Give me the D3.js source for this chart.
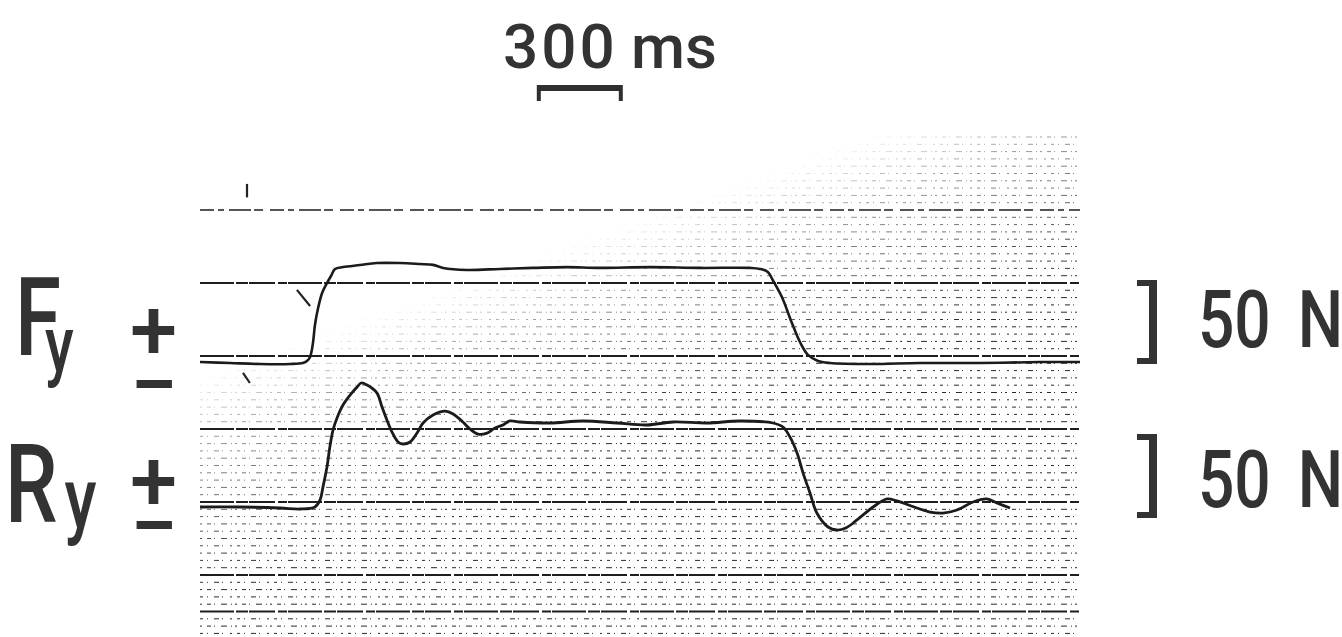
<!DOCTYPE html>
<html>
<head>
<meta charset="utf-8">
<script src="https://cdn.jsdelivr.net/npm/d3@7"></script>
<style>
  html, body { margin: 0; padding: 0; background: #fff; }
  svg { display: block; }
  text { font-family: Roboto, "Liberation Sans", sans-serif; font-weight: 500; fill: #333; }
</style>
</head>
<body>
<div id="chart"></div>
<script>
// Fy trace: time (ms) and force (N)
const fyTime  = [0, 105, 209, 314, 359, 373, 384, 394, 401, 412, 426, 443, 457, 471, 499, 558, 617, 698, 767, 813, 848, 931, 1047, 1162, 1280, 1395, 1570, 1744, 1919, 1953, 1981, 1998, 2030, 2065, 2093, 2121, 2156, 2198, 2337, 2512, 2721, 2930, 3070];
const fyForce = [0, -0.6, -1.2, -1.2, -0.6, 0.6, 3.0, 11.3, 22.0, 32.1, 41.1, 47.0, 51.2, 55.4, 56.5, 57.7, 58.9, 58.9, 58.3, 57.8, 56.0, 54.8, 55.4, 56.0, 56.5, 56.0, 56.5, 56.0, 56.0, 55.4, 53.6, 48.8, 38.7, 23.2, 11.9, 4.2, 0.6, -0.6, -1.2, -0.6, -0.6, 0, 0];

// Ry trace
const ryTime  = [0, 140, 279, 349, 401, 419, 429, 443, 453, 464, 478, 499, 530, 548, 562, 583, 617, 635, 652, 670, 691, 708, 733, 757, 778, 813, 855, 883, 917, 942, 970, 1001, 1029, 1057, 1081, 1116, 1221, 1336, 1455, 1559, 1650, 1769, 1884, 1999, 2034, 2058, 2083, 2104, 2128, 2152, 2191, 2222, 2253, 2292, 2348, 2397, 2431, 2501, 2547, 2592, 2641, 2697, 2745, 2780, 2826];
const ryForce = [0.6, 0.6, 0, -0.6, 0.6, 4.8, 12.5, 24.4, 36.3, 46.4, 53.6, 61.3, 68.5, 72.0, 74.4, 73.2, 68.5, 60.1, 52.4, 45.2, 39.3, 38.1, 39.3, 44.6, 50.6, 55.4, 57.7, 56.0, 51.2, 47.0, 44.0, 44.6, 47.6, 49.4, 51.8, 51.2, 50.6, 51.8, 50.6, 49.4, 51.2, 50.6, 51.8, 50.6, 48.2, 42.3, 32.7, 20.8, 8.9, -3.0, -11.3, -13.1, -11.9, -7.1, 0.6, 5.4, 4.2, 0, -2.4, -3.0, -1.2, 3.6, 5.4, 3.0, 0];

// stray pen marks on the Fy channel (time ms, force N), pairs = segments
const markTime  = [[338, 384], [164, 164], [150, 174]];
const markForce = [[42.9, 33.3], [106, 98], [-6.5, -12.5]];

// paper grid rows (major divisions)
const majorRows = [0, 1, 2, 3, 4, 5, 5.5];
const minorStep = 0.1;

// calibration marks
const scaleBarMs = 300;
const scaleBarStart = 1175;
const scaleBarN = 50;

const width = 1342, height = 637;

const svg = d3.select("#chart").append("svg")
    .attr("width", width)
    .attr("height", height);

const x = d3.scaleLinear().domain([0, 3070]).range([200, 1080]);
const row = d3.scaleLinear().domain([0, 5]).range([210, 575]);
const yFy = d3.scaleLinear().domain([0, 50]).range([362, 278]);
const yRy = d3.scaleLinear().domain([0, 50]).range([508, 424]);

// fade mask so the fine grid shows mostly lower right like the print
const defs = svg.append("defs");
const grad = defs.append("linearGradient")
    .attr("id", "fade")
    .attr("gradientUnits", "userSpaceOnUse")
    .attr("x1", 550).attr("y1", 250)
    .attr("x2", 620).attr("y2", 445);
grad.append("stop").attr("offset", 0).attr("stop-color", "#000");
grad.append("stop").attr("offset", 0.3).attr("stop-color", "#777");
grad.append("stop").attr("offset", 1).attr("stop-color", "#fff");
defs.append("mask").attr("id", "gridMask")
    .append("rect")
    .attr("x", 0).attr("y", 0).attr("width", width).attr("height", height)
    .attr("fill", "url(#fade)");

// fine grid
const minorRows = d3.range(-1, 6, minorStep)
    .map(d => Math.round(d * 10) / 10)
    .filter(d => !majorRows.includes(d));

svg.append("g")
    .attr("mask", "url(#gridMask)")
    .selectAll("line")
    .data(minorRows)
    .enter().append("line")
    .attr("x1", x(0)).attr("x2", x(3070))
    .attr("y1", d => row(d)).attr("y2", d => row(d))
    .style("stroke", "#2a2a2a")
    .style("stroke-width", 1)
    .style("stroke-dasharray", (d, i) => i % 2 ? "3 4 1 6 5 3 1 7 2 5" : "2 5 4 3 1 6 6 4 1 3");

// right paper edge
svg.append("line")
    .attr("mask", "url(#gridMask)")
    .attr("x1", x(3070)).attr("x2", x(3070))
    .attr("y1", row(-0.9)).attr("y2", height)
    .style("stroke", "#555")
    .style("stroke-width", 1.5)
    .style("stroke-dasharray", "2 3 1 4");

// major grid
svg.append("g")
    .selectAll("line")
    .data(majorRows)
    .enter().append("line")
    .attr("x1", x(0)).attr("x2", x(3070))
    .attr("y1", d => row(d)).attr("y2", d => row(d))
    .style("stroke", "#1e1e1e")
    .style("stroke-width", (d, i) => i === 0 ? 1.4 : 2)
    .style("stroke-dasharray", (d, i) => i === 0 ? "14 4 6 5 22 3 9 7" : "34 2 12 1 26 3 9 1");

// traces
const line = (y) => d3.line()
    .x(d => x(d[0]))
    .y(d => y(d[1]))
    .curve(d3.curveCatmullRom.alpha(0.5));

svg.append("path")
    .attr("d", line(yFy)(d3.zip(fyTime, fyForce)))
    .style("fill", "none")
    .style("stroke", "#1b1b1b")
    .style("stroke-width", 2.6)
    .style("stroke-linejoin", "round");

svg.append("path")
    .attr("d", line(yRy)(d3.zip(ryTime, ryForce)))
    .style("fill", "none")
    .style("stroke", "#1b1b1b")
    .style("stroke-width", 2.8)
    .style("stroke-linejoin", "round");

svg.append("g")
    .selectAll("line")
    .data(d3.range(markTime.length))
    .enter().append("line")
    .attr("x1", i => x(markTime[i][0])).attr("x2", i => x(markTime[i][1]))
    .attr("y1", i => yFy(markForce[i][0])).attr("y2", i => yFy(markForce[i][1]))
    .style("stroke", "#222")
    .style("stroke-width", 2.2);

// time scale bar
const barX0 = x(scaleBarStart), barX1 = x(scaleBarStart + scaleBarMs);
const tl = svg.append("text")
    .attr("x", 503).attr("y", 68)
    .style("font-size", "62px");
tl.append("tspan").style("letter-spacing", "3px").text(scaleBarMs);
tl.append("tspan").attr("x", 631).text("ms");
svg.append("path")
    .attr("d", `M${barX0},101 V85 H${barX1} V101 H${barX1 - 4} V91 H${barX0 + 4} V101 Z`)
    .style("fill", "#2f2f2f");

// channel labels (letter + subscript, then the +/- polarity marks)
const chanLabels = [
    {letter: "F", sub: "y", lx: 15, lb: 355, subDx: -21, subDy: 16, subSize: 77, pb: 359, mb: 414},
    {letter: "R", sub: "y", lx: 5, lb: 522, subDx: 9, subDy: 6, subSize: 86, pb: 510, mb: 555}
];
chanLabels.forEach(c => {
    const t = svg.append("text")
        .attr("transform", `translate(${c.lx},${c.lb}) scale(0.76,1)`)
        .style("font-size", "110px");
    t.append("tspan").text(c.letter);
    t.append("tspan")
        .attr("dx", c.subDx).attr("dy", c.subDy)
        .style("font-size", c.subSize + "px")
        .text(c.sub);

    const pm = svg.append("text").style("font-size", "85px");
    pm.append("tspan").attr("x", 130).attr("y", c.pb).text("+");
    pm.append("tspan").attr("x", 130).attr("y", c.mb).text("\u2212");
});

// force calibration brackets
[[yFy, 2, 347], [yRy, 10, 507]].forEach(([y, shift, base]) => {
    const top = y(scaleBarN) + shift, bot = y(0) + shift;
    svg.append("path")
        .attr("d", `M1137,${top} H1157 V${bot} H1137 V${bot - 6} H1149 V${top + 6} H1137 Z`)
        .style("fill", "#333");
    svg.append("text")
        .attr("transform", `translate(1198,${base}) scale(0.8,1)`)
        .style("font-size", "80px")
        .style("word-spacing", "14px")
        .text(scaleBarN + " N");
});
</script>
</body>
</html>
